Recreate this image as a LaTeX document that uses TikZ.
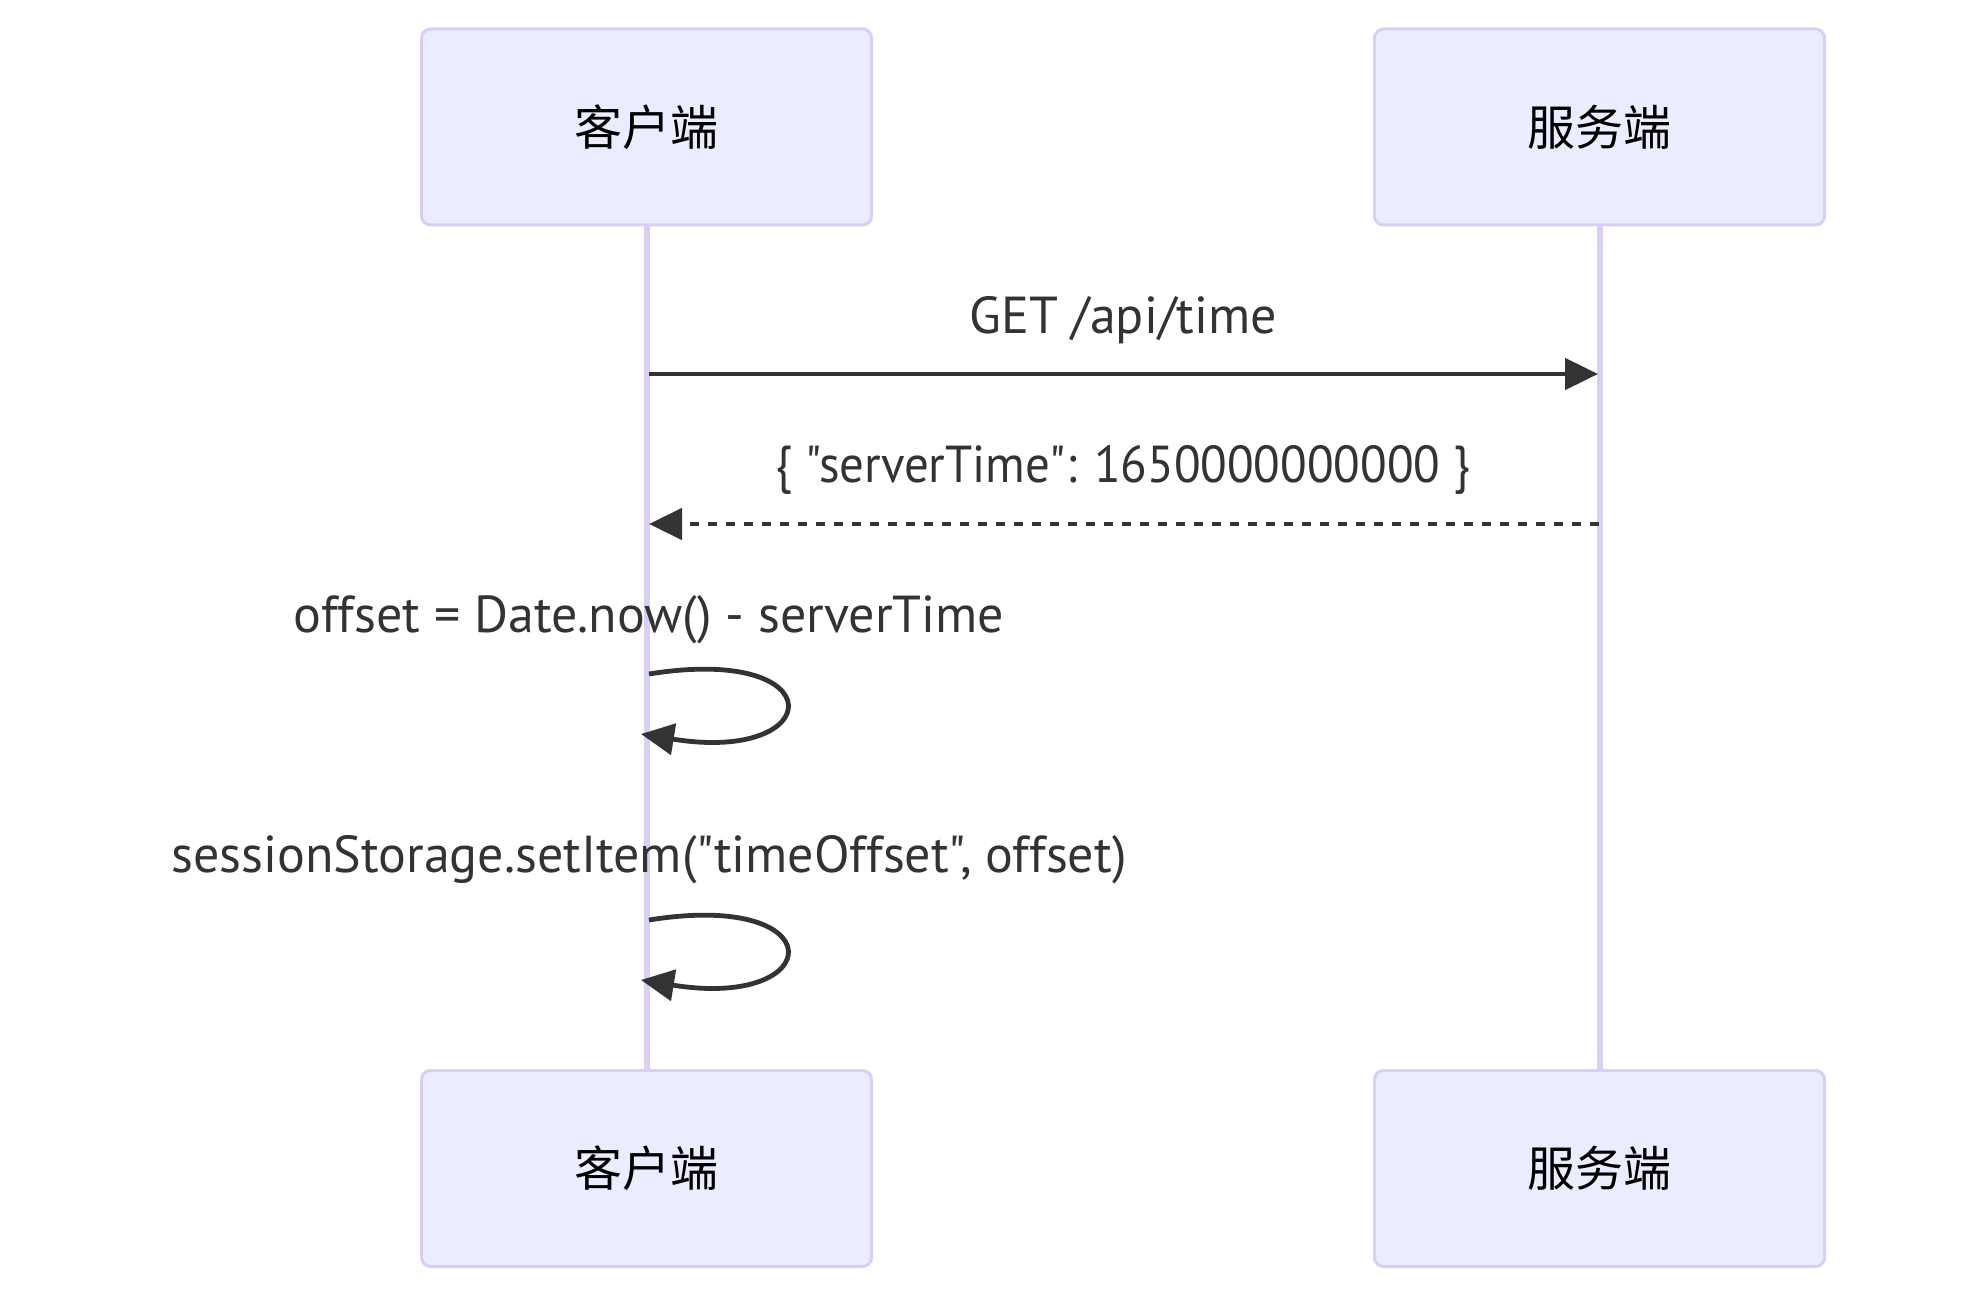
\documentclass[tikz,border=0pt]{standalone}
\usepackage{fontspec}
\setmainfont[Ligatures=TeXReset]{PT Sans}
\newfontfamily\cjk{Noto Sans CJK SC}
\usetikzlibrary{arrows.meta}
\definecolor{actfill}{HTML}{ECECFF}
\definecolor{actline}{HTML}{DACEF3}
\definecolor{msgcol}{HTML}{333333}
\newcommand\dq{\symbol{34}}
\tikzset{
  actor/.style={draw=actline, line width=1.5pt, fill=actfill, rounded corners=4.5pt,
    minimum width=225pt, minimum height=98pt, inner sep=0pt, font=\cjk\fontsize{24pt}{28pt}\selectfont, text=black},
  life/.style={draw=actline, line width=3pt},
  msg/.style={draw=msgcol, line width=2.4pt, -{Triangle[length=16.5pt,width=15.5pt]}},
  msgtext/.style={font=\fontsize{26pt}{30pt}\selectfont, text=msgcol, inner sep=0pt},
}
\begin{document}
\begin{tikzpicture}[x=0.5pt,y=-0.5pt]
\useasboundingbox (0,0) rectangle (1975,1299);
% actors
\node[actor] (ct) at (646.5,127) {客户端};
\node[actor] (st) at (1599.5,127) {服务端};
\node[actor] (cb) at (646.5,1168.5) {客户端};
\node[actor] (sb) at (1599.5,1168.5) {服务端};
% lifelines
\draw[life] (ct.south) -- (cb.north);
\draw[life] (st.south) -- (sb.north);
% message anchors
\coordinate (m1a) at (649,374);
\coordinate (m1b) at (1598,374);
\coordinate (m2a) at (1599,524);
\coordinate (m2b) at (649,524);
\coordinate (l1a) at (649,674);
\coordinate (l1b) at (641,734);
\coordinate (l2a) at (649,920);
\coordinate (l2b) at (641,980);
% labels
\node[msgtext] (t1) at (1123,320) {GET /api/time};
\node[msgtext] (t2) at (1123,470) {\scalebox{0.94}[1]{\{ \dq serverTime\dq: 1650000000000 \}}};
\node[msgtext] (t3) at (649,620) {offset = Date.now() - serverTime};
\node[msgtext] (t4) at (649,860) {sessionStorage.setItem(\dq timeOffset\dq, offset)};
% messages
\draw[msg] (m1a) -- (m1b);
\draw[msg, dash pattern=on 4.5pt off 4.5pt] (m2a) -- (m2b);
\draw[msg] (l1a) .. controls +(186,-30) and +(186,30) .. (l1b);
\draw[msg] (l2a) .. controls +(186,-30) and +(186,30) .. (l2b);
\end{tikzpicture}
\end{document}
